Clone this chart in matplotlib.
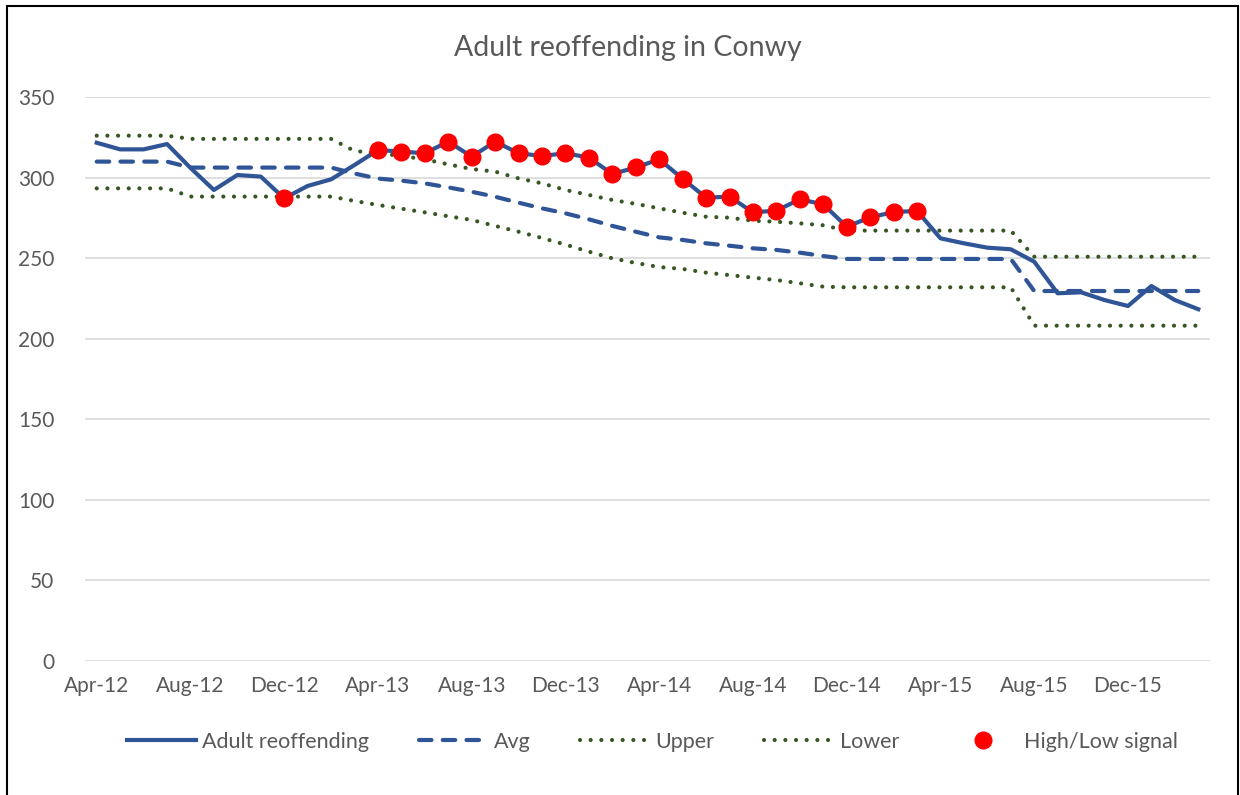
import pandas as pd
import matplotlib
matplotlib.use("Agg")
import matplotlib.pyplot as plt
from matplotlib.patches import Rectangle

plt.rcParams['font.family'] = ['Lato', 'DejaVu Sans']

months = pd.date_range("2012-04-01", periods=48, freq="MS").strftime("%b-%y").tolist()

reoffending = [321.6, 317.5, 317.5, 320.8, 306.0, 292.3, 301.6, 300.6, 287.1, 294.8, 298.9, 307.8,
               317.1, 316.1, 315.1, 322.3, 313.0, 322.3, 315.1, 313.4, 315.1, 312.4, 302.2, 306.3,
               311.3, 299.3, 287.5, 288.2, 278.4, 279.5, 286.5, 283.4, 269.5, 275.3, 278.6, 279.3,
               262.3, 259.2, 256.5, 255.5, 247.8, 228.2, 228.8, 224.0, 220.3, 232.7, 224.0, 218.3]
avg = [309.9, 309.9, 309.9, 309.9, 306.2, 306.2, 306.2, 306.2, 306.2, 306.2, 306.2, 302.5,
       299.4, 298.1, 296.4, 293.9, 291.2, 288.1, 284.4, 280.9, 277.8, 274.1, 270.0, 266.4,
       262.9, 261.3, 259.2, 257.7, 256.1, 255.1, 253.4, 251.3, 249.5, 249.5, 249.5, 249.5,
       249.5, 249.5, 249.5, 249.5, 229.6, 229.6, 229.6, 229.6, 229.6, 229.6, 229.6, 229.6]
upper = [326.0, 326.0, 326.0, 326.0, 324.0, 324.0, 324.0, 324.0, 324.0, 324.0, 324.0, 316.5,
         315.1, 313.4, 311.3, 308.2, 305.3, 303.7, 299.5, 296.4, 292.3, 289.2, 286.1, 283.7,
         280.9, 278.2, 275.7, 275.1, 273.2, 272.6, 271.6, 270.4, 267.1, 267.1, 267.1, 267.1,
         267.1, 267.1, 267.1, 267.1, 250.9, 250.9, 250.9, 250.9, 250.9, 250.9, 250.9, 250.9]
lower = [293.3, 293.3, 293.3, 293.3, 288.2, 288.2, 288.2, 288.2, 288.2, 288.2, 288.2, 285.5,
         283.0, 280.7, 278.4, 276.0, 273.7, 270.0, 266.4, 262.5, 258.4, 254.0, 249.9, 247.0,
         244.5, 243.3, 241.0, 239.5, 237.9, 236.4, 234.4, 232.3, 231.9, 231.9, 231.9, 231.9,
         231.9, 231.9, 231.9, 231.9, 208.1, 208.1, 208.1, 208.1, 208.1, 208.1, 208.1, 208.1]
signal_months = ["Dec-12", "Apr-13", "May-13", "Jun-13", "Jul-13", "Aug-13", "Sep-13", "Oct-13",
                 "Nov-13", "Dec-13", "Jan-14", "Feb-14", "Mar-14", "Apr-14", "May-14", "Jun-14",
                 "Jul-14", "Aug-14", "Sep-14", "Oct-14", "Nov-14", "Dec-14", "Jan-15", "Feb-15", "Mar-15"]

blue = "#2F5597"
green = "#375623"
grey = "#595959"

x = list(range(len(months)))
sig_x = [months.index(m) for m in signal_months]
sig_y = [reoffending[i] for i in sig_x]

fig = plt.figure(figsize=(12.4, 7.95), dpi=100)
ax = fig.add_axes([85 / 1240, 1 - 661 / 795, 1125 / 1240, 564 / 795])

dots = (0, (0.01, 2.55))
ax.plot(x, reoffending, color=blue, lw=3, solid_joinstyle="round", label="Adult reoffending", zorder=4)
ax.plot(x, avg, color=blue, lw=3, linestyle=(0, (3, 2.7)), dash_capstyle="round", label="Avg", zorder=3)
ax.plot(x, upper, color=green, lw=3, linestyle=dots, dash_capstyle="round", label="Upper", zorder=2)
ax.plot(x, lower, color=green, lw=3, linestyle=dots, dash_capstyle="round", label="Lower", zorder=2)
ax.plot(sig_x, sig_y, linestyle="none", marker="o", ms=12, color="#FF0000", label="High/Low signal", zorder=5)

ax.set_xlim(-0.5, len(months) - 0.5)
ax.set_ylim(0, 350)
ax.set_yticks(range(0, 351, 50))
ax.set_xticks(x[::4])
ax.set_xticklabels(months[::4])
ax.tick_params(length=0, labelsize=15, colors=grey)
ax.tick_params(axis="y", pad=22)
ax.tick_params(axis="x", pad=11)
ax.grid(axis="y", color="#D9D9D9", lw=1.2)
ax.set_axisbelow(True)
for s in ax.spines.values():
    s.set_visible(False)

fig.text(0.506, 1 - 48 / 795, "Adult reoffending in Conwy", ha="center", va="center", fontsize=20.5, color=grey)

leg = fig.legend(loc="center", bbox_to_anchor=(0.526, 1 - 742 / 795), ncol=5, frameon=False,
                 fontsize=15.5, handlelength=3.2, handletextpad=0.3, columnspacing=2.3)
for t in leg.get_texts():
    t.set_color(grey)

fig.add_artist(Rectangle((7 / 1240, -0.02), 1231 / 1240, 1.02 - 6 / 795, transform=fig.transFigure,
                         fill=False, edgecolor="black", lw=1.5))

fig.savefig("out.png", dpi=100)
